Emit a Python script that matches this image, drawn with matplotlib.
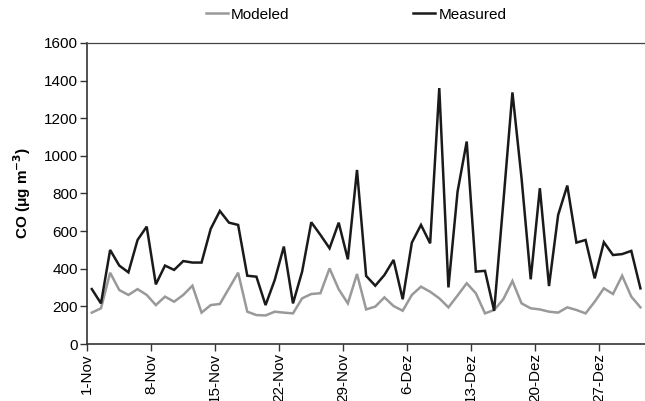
import matplotlib
matplotlib.use("Agg")
import matplotlib.pyplot as plt
import numpy as np

plt.rcParams['font.family'] = ['Liberation Sans', 'DejaVu Sans']

# Daily CO concentrations, 1 Nov - 31 Dec (ug m-3)
measured = [292, 216, 500, 417, 381, 553, 624, 317, 417, 394,
            441, 433, 433, 612, 707, 645, 633, 363, 358, 207,
            340, 518, 216, 385, 647, 580, 509, 645, 450, 925,
            362, 310, 367, 447, 238, 539, 633, 535, 1360, 301,
            810, 1076, 385, 389, 177, 750, 1337, 880, 344, 828,
            308, 686, 842, 539, 553, 349, 541, 473, 478, 495,
            296]
modeled = [167, 190, 379, 287, 261, 292, 261, 207, 252, 225,
           261, 310, 167, 207, 213, 296, 379, 172, 154, 152,
           172, 167, 163, 243, 266, 270, 402, 291, 216, 372,
           184, 199, 248, 202, 177, 261, 305, 278, 243, 195,
           258, 323, 270, 163, 181, 238, 335, 216, 190, 184,
           172, 167, 195, 181, 163, 225, 296, 266, 363, 252,
           195]
tick_labels = ['1-Nov', '8-Nov', '15-Nov', '22-Nov', '29-Nov',
               '6-Dez', '13-Dez', '20-Dez', '27-Dez']
y_ticks = [0, 200, 400, 600, 800, 1000, 1200, 1400, 1600]

n = len(measured)
x = np.arange(n) + 0.5

fig = plt.figure(figsize=(6.45, 4.01), dpi=100)
ax = fig.add_axes([0.1353, 0.142, 0.8647, 0.751])

ax.plot(x, modeled, color='#999999', lw=1.8, label='Modeled', solid_joinstyle='miter')
ax.plot(x, measured, color='#1a1a1a', lw=1.8, label='Measured', solid_joinstyle='miter')

ax.set_xlim(0, n)
ax.set_ylim(0, 1600)
ax.set_yticks(y_ticks)
ax.set_yticklabels([str(v) for v in y_ticks], fontsize=11)
ax.set_xticks(np.arange(0, n, 7)[:len(tick_labels)])
ax.set_xticklabels(tick_labels, rotation=90, fontsize=11)
ax.tick_params(axis='both', direction='out', length=5, width=1, color='#333333', pad=1.5)

for side in ['left', 'bottom']:
    ax.spines[side].set_color('#333333')
    ax.spines[side].set_linewidth(1.2)
ax.spines['top'].set_color('#444444')
ax.spines['top'].set_linewidth(0.9)
ax.spines['right'].set_visible(False)

ax.set_ylabel('CO (\u03bcg m$^{\\mathbf{-3}}$)', fontsize=11, fontweight='bold', labelpad=8)

fig.legend(loc='center', bbox_to_anchor=(0.552, 0.963), ncol=2, frameon=False,
           fontsize=11, handlelength=1.45, handletextpad=0.2, columnspacing=8.1)

fig.savefig('out.png', dpi=100)
